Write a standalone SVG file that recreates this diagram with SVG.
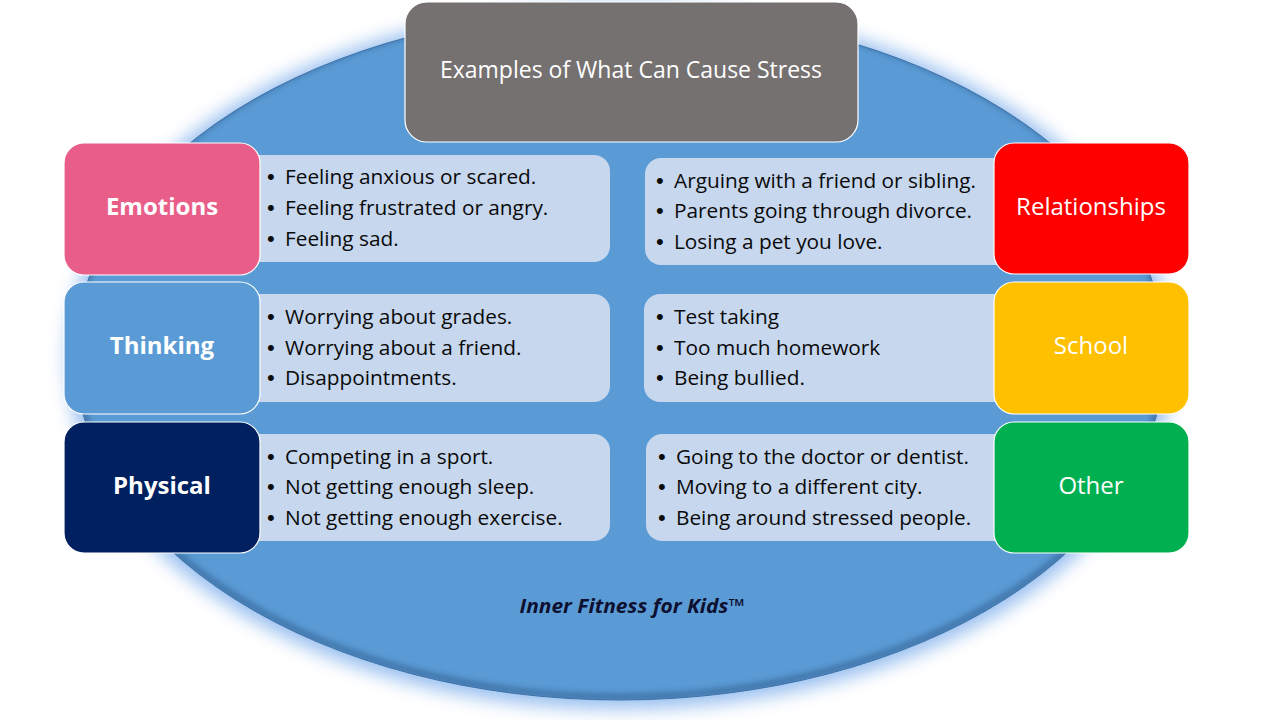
<svg xmlns="http://www.w3.org/2000/svg" width="1280" height="720" viewBox="0 0 1280 720">
<defs>
<filter id="glow" x="-20%" y="-20%" width="140%" height="140%">
<feGaussianBlur stdDeviation="9"/>
</filter>
<filter id="inner" x="-10%" y="-10%" width="120%" height="120%">
<feGaussianBlur stdDeviation="3"/>
</filter>
<clipPath id="ellclip"><ellipse cx="620" cy="355" rx="545" ry="345"/></clipPath>
<style>
.lbl{font-family:"Open Sans","Liberation Sans",sans-serif;font-size:24px;fill:#fff;text-anchor:middle}
.b{font-weight:bold}
.item{font-family:"Open Sans","Liberation Sans",sans-serif;font-size:20.8px;fill:#0a0a0a}
.bul{font-family:"Liberation Sans",sans-serif;font-size:22px;fill:#0a0a0a}
.content{fill:#C6D7EE}
.box{stroke:#fff;stroke-width:1.2}
</style>
</defs>
<rect width="1280" height="720" fill="#fff"/>
<g id="background">
<ellipse cx="620" cy="357" rx="553" ry="352" fill="#8DB8EE" filter="url(#glow)" opacity="0.9"/>
<ellipse cx="620" cy="355" rx="545" ry="345" fill="#5B9BD5"/>
<g clip-path="url(#ellclip)">
<ellipse cx="620" cy="352" rx="545" ry="345" fill="none" stroke="#2E5C8C" stroke-width="5" filter="url(#inner)" opacity="0.8"/>
</g>
<ellipse cx="620" cy="355" rx="545" ry="345" fill="none" stroke="#3F72A8" stroke-width="1"/>
</g>
<g id="title">
<rect class="box" x="405" y="2" width="453" height="140" rx="22" fill="#767171"/>
<text class="lbl" x="631" y="78" style="font-size:23px">Examples of What Can Cause Stress</text>
</g>
<g id="emotions-items">
<rect class="content" x="240" y="155" width="370" height="107" rx="16"/>
<text class="bul"><tspan x="267" y="184">•</tspan><tspan x="267" y="215">•</tspan><tspan x="267" y="246">•</tspan></text>
<text class="item"><tspan x="285" y="184">Feeling anxious or scared.</tspan><tspan x="285" y="215">Feeling frustrated or angry.</tspan><tspan x="285" y="246">Feeling sad.</tspan></text>
</g>
<g id="emotions">
<rect class="box" x="64" y="143" width="196" height="132" rx="20" fill="#E95E89"/>
<text class="lbl b" x="162" y="215">Emotions</text>
</g>
<g id="thinking-items">
<rect class="content" x="240" y="294" width="370" height="108" rx="16"/>
<text class="bul"><tspan x="267" y="324">•</tspan><tspan x="267" y="355">•</tspan><tspan x="267" y="385">•</tspan></text>
<text class="item"><tspan x="285" y="324">Worrying about grades.</tspan><tspan x="285" y="355">Worrying about a friend.</tspan><tspan x="285" y="385">Disappointments.</tspan></text>
</g>
<g id="thinking">
<rect class="box" x="64" y="282" width="196" height="132" rx="20" fill="#5B9BD5"/>
<text class="lbl b" x="162" y="354">Thinking</text>
</g>
<g id="physical-items">
<rect class="content" x="240" y="434" width="370" height="107" rx="16"/>
<text class="bul"><tspan x="267" y="464">•</tspan><tspan x="267" y="494">•</tspan><tspan x="267" y="525">•</tspan></text>
<text class="item"><tspan x="285" y="464">Competing in a sport.</tspan><tspan x="285" y="494">Not getting enough sleep.</tspan><tspan x="285" y="525">Not getting enough exercise.</tspan></text>
</g>
<g id="physical">
<rect class="box" x="64" y="422" width="196" height="131" rx="20" fill="#002060"/>
<text class="lbl b" x="162" y="494">Physical</text>
</g>
<g id="relationships-items">
<rect class="content" x="645" y="158" width="370" height="107" rx="16"/>
<text class="bul"><tspan x="656" y="188">•</tspan><tspan x="656" y="218">•</tspan><tspan x="656" y="249">•</tspan></text>
<text class="item"><tspan x="674" y="188">Arguing with a friend or sibling.</tspan><tspan x="674" y="218">Parents going through divorce.</tspan><tspan x="674" y="249">Losing a pet you love.</tspan></text>
</g>
<g id="relationships">
<rect class="box" x="994" y="143" width="195" height="131" rx="20" fill="#FF0000"/>
<text class="lbl" x="1091" y="215">Relationships</text>
</g>
<g id="school-items">
<rect class="content" x="644" y="294" width="370" height="108" rx="16"/>
<text class="bul"><tspan x="656" y="324">•</tspan><tspan x="656" y="355">•</tspan><tspan x="656" y="385">•</tspan></text>
<text class="item"><tspan x="674" y="324">Test taking</tspan><tspan x="674" y="355">Too much homework</tspan><tspan x="674" y="385">Being bullied.</tspan></text>
</g>
<g id="school">
<rect class="box" x="994" y="282" width="195" height="132" rx="20" fill="#FFC000"/>
<text class="lbl" x="1091" y="354">School</text>
</g>
<g id="other-items">
<rect class="content" x="646" y="434" width="370" height="107" rx="16"/>
<text class="bul"><tspan x="658" y="464">•</tspan><tspan x="658" y="494">•</tspan><tspan x="658" y="525">•</tspan></text>
<text class="item"><tspan x="676" y="464">Going to the doctor or dentist.</tspan><tspan x="676" y="494">Moving to a different city.</tspan><tspan x="676" y="525">Being around stressed people.</tspan></text>
</g>
<g id="other">
<rect class="box" x="994" y="422" width="195" height="131" rx="20" fill="#00B050"/>
<text class="lbl" x="1091" y="494">Other</text>
</g>
<g id="footer">
<text x="632" y="613" font-family="'Open Sans','Liberation Sans',sans-serif" font-size="20" font-weight="bold" font-style="italic" fill="#0d1030" text-anchor="middle" textLength="225" lengthAdjust="spacingAndGlyphs">Inner Fitness for Kids™</text>
</g>
<g id="connectors"/>
</svg>
